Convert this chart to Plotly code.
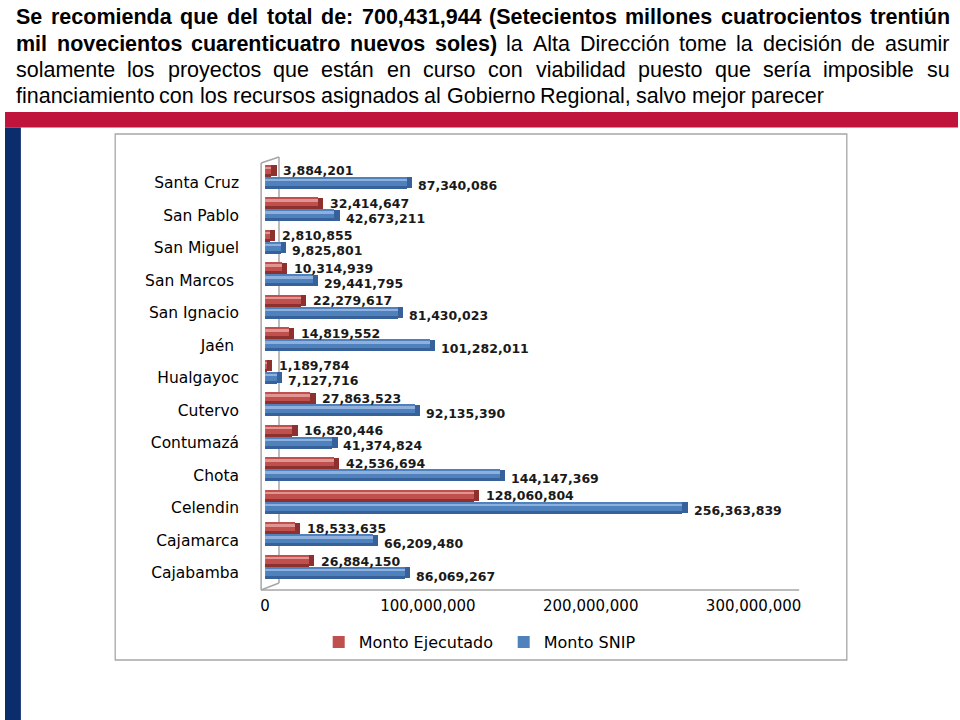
import plotly.graph_objects as go

# ---------------- data ----------------
categories = ["Cajabamba", "Cajamarca", "Celendin", "Chota", "Contumazá", "Cutervo",
              "Hualgayoc", "Jaén", "San Ignacio", "San Marcos", "San Miguel",
              "San Pablo", "Santa Cruz"]
category_labels = ["Cajabamba", "Cajamarca", "Celendin", "Chota", "Contumazá", "Cutervo",
                   "Hualgayoc", "Jaén\u00a0", "San Ignacio", "San Marcos\u00a0", "San Miguel",
                   "San Pablo", "Santa Cruz"]
monto_ejecutado = [26884150, 18533635, 128060804, 42536694, 16820446, 27863523,
                   1189784, 14819552, 22279617, 10314939, 2810855, 32414647, 3884201]
monto_snip = [86069267, 66209480, 256363839, 144147369, 41374824, 92135390,
              7127716, 101282011, 81430023, 29441795, 9825801, 42673211, 87340086]
x_ticks = [0, 100000000, 200000000, 300000000]
x_tick_labels = ["0", "100,000,000", "200,000,000", "300,000,000"]

title_lines = [
    [("Se recomienda que del total de: 700,431,944  (Setecientos millones cuatrocientos trentiún", True)],
    [("mil novecientos cuarenticuatro nuevos soles)", True),
     ("la Alta Dirección tome la decisión de asumir", False)],
    [("solamente los proyectos que están en curso con viabilidad puesto que sería imposible su", False)],
    [("financiamiento con los recursos asignados al Gobierno Regional, salvo mejor parecer", False)],
]

W, H = 960, 720


def px(x):
    return x / W


def py(y):
    return 1 - y / H


# ---------------- Arial / Liberation Sans metrics (per 1000 em) ----------------
REG = {}
for chars, w in [("ijl", 222), (" ft,.:;!I/íÍ", 278), ("r()-", 333), ("cksvxyzJ", 500),
                 ("abdeghnopquáéóúñ0123456789L", 556), ("FTZ", 611), ("ABEKPSVXY", 667),
                 ("wCDHNRU", 722), ("GOQ", 778), ("mM", 833), ("W", 944)]:
    for c in chars:
        REG[c] = w
BOLD = {}
for chars, w in [(" ijlI,.;í", 278), ("ft:!()-", 333), ("r", 389), ("z", 500),
                 ("acekvsxyJáé0123456789", 556), ("bdghnopquóúñFTZL", 611),
                 ("ESPVXY", 667), ("ABCDHKNRU", 722), ("w", 778), ("GOQ", 778),
                 ("M", 833), ("m", 889), ("W", 944)]:
    for c in chars:
        BOLD[c] = w


def text_w(s, bold, size):
    t = BOLD if bold else REG
    return sum(t.get(c, 556) for c in s) * size / 1000.0


FS = 21.5
line_y = [17, 44, 70, 96]
left_x, right_x = 10, 950

annotations = []
for li, parts in enumerate(title_lines):
    words = []
    for txt, bold in parts:
        for wd in txt.split():
            words.append((wd, bold))
    widths = [text_w(wd, b, FS) for wd, b in words]
    if li < len(title_lines) - 1:
        gap = (right_x - left_x - sum(widths)) / (len(words) - 1)
    else:
        gap = REG[" "] * FS / 1000.0
    x = left_x
    for (wd, b), ww in zip(words, widths):
        annotations.append(dict(
            x=px(x), y=py(line_y[li]), xref="paper", yref="paper",
            xanchor="left", yanchor="middle", showarrow=False,
            text=("<b>%s</b>" % wd) if b else wd, borderpad=0,
            font=dict(family="Liberation Sans, Arial, sans-serif", size=FS, color="#000000")))
        x += ww + gap

# ---------------- bars (cylinder look via layered bars) ----------------
fig = go.Figure()
CAP = 3.2e6  # visual length of the shaded cylinder end cap


def cylinder(values, name, main, dark, light, off, wdt, rank):
    fig.add_trace(go.Bar(
        x=values, y=categories, orientation="h", offset=off, width=wdt,
        marker=dict(color=main, line=dict(width=0)), name=name,
        cliponaxis=False, hoverinfo="skip", legendrank=rank))
    fig.add_trace(go.Bar(
        x=values, y=categories, orientation="h", offset=off, width=wdt * 0.28,
        marker=dict(color=dark, line=dict(width=0)), showlegend=False,
        hoverinfo="skip", cliponaxis=False))
    fig.add_trace(go.Bar(
        x=values, y=categories, orientation="h", offset=off + wdt * 0.62, width=wdt * 0.22,
        marker=dict(color=light, line=dict(width=0)), showlegend=False,
        hoverinfo="skip", cliponaxis=False))
    fig.add_trace(go.Bar(
        x=[CAP] * len(values), base=values, y=categories, orientation="h",
        offset=off + wdt * 0.04, width=wdt * 0.92,
        marker=dict(color=dark, line=dict(width=0)), showlegend=False,
        hoverinfo="skip", cliponaxis=False))


cylinder(monto_snip, "Monto SNIP", "#4F81BD", "#36619B", "#8FB0DD", -0.19, 0.37, 2)
cylinder(monto_ejecutado, "Monto Ejecutado", "#C0504D", "#8E302E", "#E09593", 0.18, 0.37, 1)

# data labels (placed through the axes at each bar's value)
LBL_FONT = dict(family="DejaVu Sans, sans-serif", size=12.5, color="#1a1a1a", weight="bold")
for cat, v in zip(categories, monto_ejecutado):
    annotations.append(dict(x=v, y=cat, xref="x", yref="y", xanchor="left", yanchor="middle",
                            xshift=10, yshift=12, showarrow=False, text=f"{v:,}", font=LBL_FONT))
for cat, v in zip(categories, monto_snip):
    annotations.append(dict(x=v, y=cat, xref="x", yref="y", xanchor="left", yanchor="middle",
                            xshift=9, yshift=-3, showarrow=False, text=f"{v:,}", font=LBL_FONT))

# ---------------- decorative shapes ----------------
GR = "#A6A6A6"
shapes = [
    dict(type="rect", xref="paper", yref="paper", x0=px(111), x1=px(848), y0=py(660), y1=py(134),
         line=dict(color=GR, width=1.3), fillcolor="white", layer="below"),
    dict(type="rect", xref="paper", yref="paper", x0=0, x1=1, y0=py(127.5), y1=py(112),
         line=dict(width=0), fillcolor="#C0143C", layer="below"),
    dict(type="rect", xref="paper", yref="paper", x0=0, x1=px(16), y0=0, y1=py(127.5),
         line=dict(width=0), fillcolor="#0C2D6B", layer="below"),
]
for (x0, y0, x1, y1) in [(258, 163, 258, 590), (258, 163, 276, 157), (276, 157, 276, 583),
                         (258, 590, 276, 583), (258, 590, 800, 590)]:
    shapes.append(dict(type="line", xref="paper", yref="paper", x0=px(x0), y0=py(y0),
                       x1=px(x1), y1=py(y1), line=dict(color=GR, width=1.5), layer="below"))

fig.update_layout(
    width=W, height=H, margin=dict(l=0, r=0, t=0, b=0),
    paper_bgcolor="white", plot_bgcolor="rgba(0,0,0,0)",
    barmode="overlay", bargap=0,
    shapes=shapes, annotations=annotations,
    xaxis=dict(domain=[px(262), px(800)], range=[0, 328e6], tickvals=x_ticks,
               ticktext=x_tick_labels, showgrid=False, zeroline=False, showline=False,
               ticks="", ticklabelstandoff=6,
               tickfont=dict(family="DejaVu Sans, sans-serif", size=15, color="#000000")),
    yaxis=dict(domain=[py(589.25), py(160.25)], type="category", range=[-0.5, 12.7],
               categoryorder="array", categoryarray=categories,
               tickvals=categories, ticktext=category_labels,
               showgrid=False, zeroline=False, showline=False, ticks="",
               ticklabelstandoff=25,
               tickfont=dict(family="DejaVu Sans, sans-serif", size=15.5, color="#000000")),
    legend=dict(orientation="h", x=px(316), y=py(642), xanchor="left", yanchor="middle",
                bgcolor="rgba(0,0,0,0)", entrywidth=140, entrywidthmode="pixels",
                font=dict(family="DejaVu Sans, sans-serif", size=16, color="#000000")),
    showlegend=True,
)

fig.write_html("out.html",
               config={"displayModeBar": False},
               post_script="document.body.style.margin='0px';"
                           "document.body.style.overflow='hidden';")
